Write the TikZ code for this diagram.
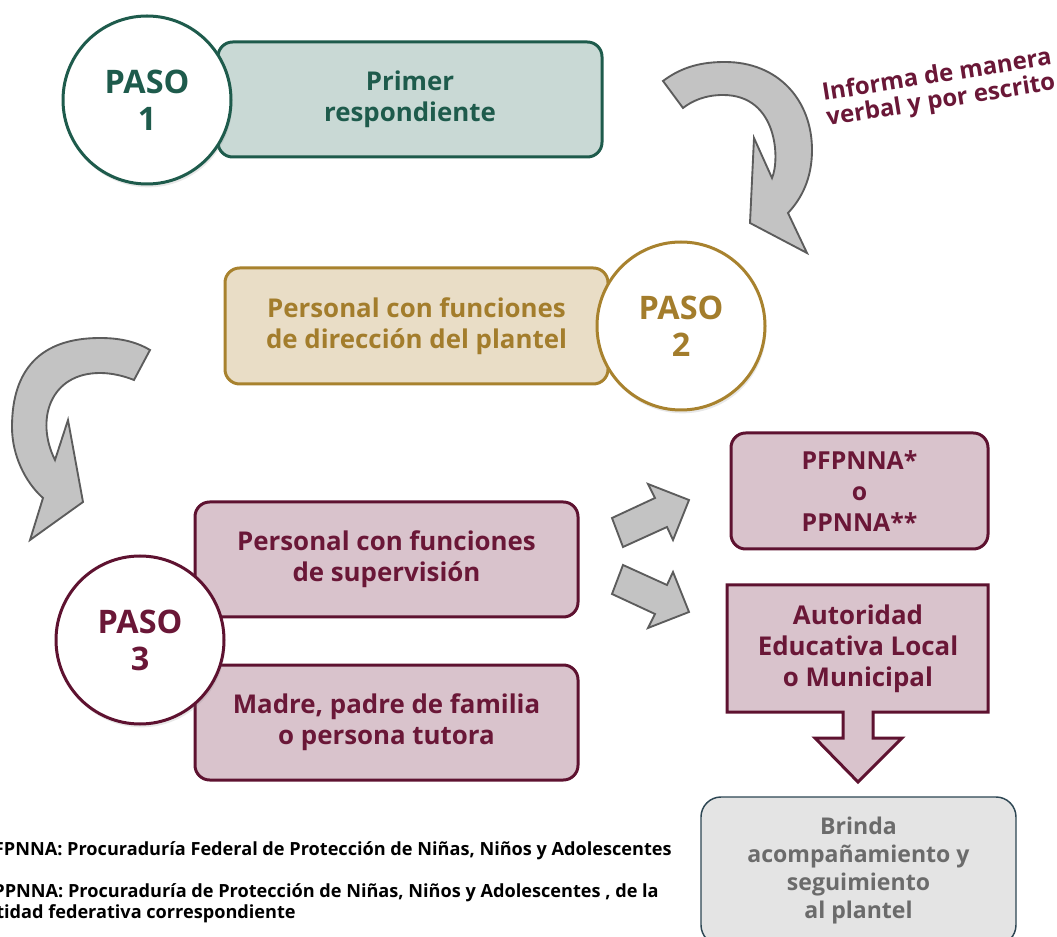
\documentclass[tikz,border=0pt]{standalone}
\usepackage{fontspec}
\setmainfont{Open Sans}
\usetikzlibrary{shadows}
\definecolor{grnB}{HTML}{1E5B4C}
\definecolor{grnF}{HTML}{C9D9D5}
\definecolor{gldB}{HTML}{A8822E}
\definecolor{gldF}{HTML}{E9DDC6}
\definecolor{gldT}{HTML}{A37D2C}
\definecolor{marB}{HTML}{5E1230}
\definecolor{marF}{HTML}{D9C3CC}
\definecolor{marT}{HTML}{6A1737}
\definecolor{gryF}{HTML}{C3C3C3}
\definecolor{gryB}{HTML}{5C5C5C}
\definecolor{brF}{HTML}{E4E4E4}
\definecolor{brB}{HTML}{2D4653}
\definecolor{brT}{HTML}{6B6B6B}
\newcommand{\mybf}{\bfseries\fontsize{19.4}{23.25}\selectfont}
\newcommand{\mypaso}{\bfseries\fontsize{24.3}{27.75}\selectfont}
\begin{document}
\begin{tikzpicture}[x=0.75pt,y=-0.75pt,
  box/.style={rounded corners=11pt, line width=2.25pt, align=center, font=\mybf, inner sep=0pt},
  circ/.style={circle, line width=2.25pt, fill=white, align=center, font=\mypaso, inner sep=0pt, minimum size=126pt,
     drop shadow={shadow xshift=1pt, shadow yshift=-2.5pt, opacity=0.18}},
  garrow/.style={fill=gryF, draw=gryB, line width=1.4pt, line join=miter},
  note/.style={font=\bfseries\fontsize{13.6}{15.75}\selectfont, inner sep=0pt, align=left}]
\useasboundingbox (0,0) rectangle (1057,937);
\fill[white] (0,0) rectangle (1057,937);

% step 1
\node[box, draw=grnB, fill=grnF, text=grnB, minimum width=288pt, minimum height=86.25pt] (b1) at (410,99.5) {Primer\\respondiente};
\node[circ, draw=grnB, text=grnB] (c1) at (147,100) {PASO\\1};

% curved arrow top right
\draw[garrow] (663,81) .. controls (683,66) and (703,62) .. (725,62)
  .. controls (778,62) and (812,100) .. (812,150)
  .. controls (812,178) and (802,198) .. (788,213)
  -- (807,253) -- (750,223) -- (754,138) -- (772,178)
  .. controls (780,160) and (778,95) .. (723,95)
  .. controls (705,95) and (692,101) .. (683,108) -- cycle;
\node[rotate=9, text=marT, font=\bfseries\fontsize{18}{19}\selectfont, align=center, inner sep=0pt] (lbl) at (939,89) {Informa de manera\\verbal y por escrito};

% step 2
\node[box, draw=gldB, fill=gldF, text=gldT, minimum width=287.25pt, minimum height=87pt] (b2) at (416.5,326) {Personal con funciones\\de dirección del plantel};
\node[circ, draw=gldB, text=gldT] (c2) at (681,326) {PASO\\2};

% curved arrow left
\draw[garrow] (150,350) .. controls (135,341) and (118,338) .. (100,338)
  .. controls (40,338) and (12,370) .. (12,427)
  .. controls (12,455) and (25,482) .. (43,498)
  -- (30,540) -- (83,502) -- (68,420) -- (55,460)
  .. controls (35,420) and (50,373) .. (100,373)
  .. controls (112,373) and (124,376) .. (134,380) -- cycle;

% step 3
\node[box, draw=marB, fill=marF, text=marT, minimum width=287.25pt, minimum height=86.25pt] (b3) at (386.5,559.5) {Personal con funciones\\de supervisión};
\node[box, draw=marB, fill=marF, text=marT, minimum width=287.25pt, minimum height=86.25pt] (b4) at (386.5,722.5) {Madre, padre de familia\\o persona tutora};
\node[circ, draw=marB, text=marT] (c3) at (140,640) {PASO\\3};

% small arrows
\draw[garrow] (612,518) -- (655,498) -- (648,484) -- (689,500) -- (673,540) -- (667,527) -- (623,547) -- cycle;
\draw[garrow] (612,594) -- (655,614) -- (648,628) -- (689,612) -- (673,572) -- (667,585) -- (623,565) -- cycle;

% right column
\node[box, draw=marB, fill=marF, text=marT, minimum width=192.75pt, minimum height=87pt,
  font=\bfseries\fontsize{18.6}{23.25}\selectfont] (b5) at (859.5,491) {PFPNNA*\\o\\PPNNA**};
\draw[draw=marB, fill=marF, line width=2.25pt, line join=miter]
  (727,585) -- (988,585) -- (988,712) -- (873,712) -- (873,738) -- (902,738) -- (858,782)
  -- (815,738) -- (843,738) -- (843,712) -- (727,712) -- cycle;
\node[text=marT, font=\mybf, align=center, inner sep=0pt] (b6) at (858,649) {Autoridad\\Educativa Local\\o Municipal};
\node[rounded corners=15pt, draw=brB, fill=brF, text=brT, line width=1.1pt, align=center,
  font=\bfseries\fontsize{17.3}{21}\selectfont, inner sep=0pt, minimum width=236.25pt, minimum height=111pt] (b7) at (858.5,871) {Brinda\\acompañamiento y\\seguimiento\\al plantel};

% notes
\node[note, anchor=east] (n1) at (672,851) {*PFPNNA: Procuraduría Federal de Protección de Niñas, Niños y Adolescentes};
\node[note, anchor=east] (n2) at (659,903.5) {**PPNNA: Procuraduría de Protección de Niñas, Niños y Adolescentes , de la\\entidad federativa correspondiente};
\end{tikzpicture}
\end{document}
